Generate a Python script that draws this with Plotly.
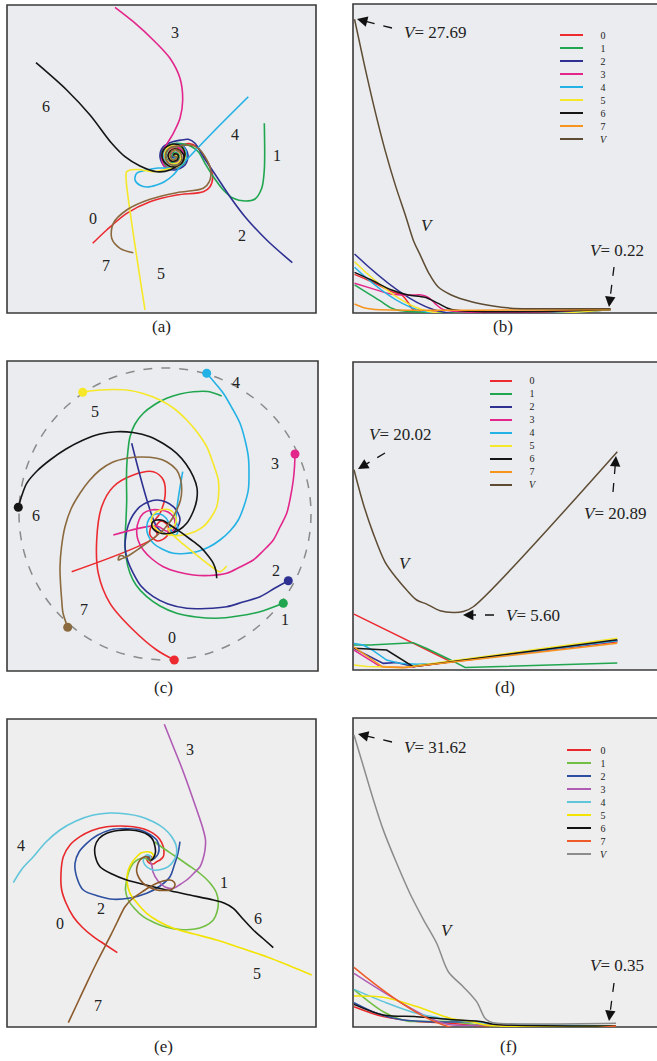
import plotly.graph_objects as go

W, H = 657, 1061
SERIF = "Liberation Serif"

# ---------------- trajectories, panel (a) (x, y in the panel frame) ----------------
a0 = [(92.7,243.3),(106.7,230),(126.7,213.3),(150,201.7),(176.7,195),(203.3,191.7),(210,186.7),(212.7,176.7),
      (210,166.7),(203.3,155),(196.7,146.7),(189,143.5),(181,145),(172,145),(164,150),(163,159),(169,166),
      (178,166),(184,159),(182,150),(175,148),(169,152),(169,159),(175,162),(179,157),(176,153),(174,156)]
a1 = [(264.3,123.3),(264.3,170),(261.7,188.3),(255,199),(245,201),(233.3,198.3),(223.3,190),(213.3,176.7),
      (205,163.3),(198.3,151.7),(191.7,146.7),(184,144),(174,143.5),(163,149),(161,158),(167,167),(177,168),
      (185,162),(185,152),(178,147),(170,148),(166,155),(169,162),(177,162),(179,155),(174,152),(172,156),(174,156)]
a2 = [(292.3,262.7),(266.7,240),(245,216.7),(230,196.7),(216.7,176.7),(203.3,156.7),(195,143.3),(188.3,139.3),
      (181.7,140),(172,142),(163,147),(160,157),(165,167),(175,170),(185,165),(188,155),(183,146),(174,145),
      (166,150),(165,159),(171,164),(179,162),(181,155),(175,150),(170,155),(174,158),(176,156)]
a3 = [(115,7.3),(133.3,21.7),(155,41.7),(170,58.3),(180,78.3),(182.7,100),(180,118.3),(173.3,133.3),(168.3,141.7),
      (163.3,150),(161.7,158.3),(165,166.7),(173.3,168.3),(181.7,163.3),(184,155),(180,148.3),(173,146),(166,151),
      (166,159),(172,164),(179,161),(181,155),(176,150),(171,153),(171,159),(176,159),(175,155),(174,156)]
a4 = [(248.3,96.7),(217,128),(192,154),(180,167),(173.3,175),(164,182),(156.7,185),(147,187),(140,185.3),(135,180),
      (136.7,173.3),(146.7,170),(158,168),(168,168),(178,166),(185,160),(186,151),(180,145),(171,145),(165,150),
      (164,158),(169,164),(177,164),(181,158),(179,151),(173,150),(170,154),(172,159),(176,158),(174,156)]
a5 = [(145,310),(126,178),(126.5,172),(130,170),(138,169.5),(153.3,171.7),(163,170),(172,168),(180,165),(185,158),
      (184,150),(178,145),(170,146),(165,152),(166,160),(172,164),(179,162),(181,156),(177,150),(171,152),
      (170,158),(175,160),(177,156),(174,156)]
a6 = [(36,62.7),(66.7,90),(90,115),(111.7,143.3),(125,156.7),(140,166),(156.7,171.7),(170,170),(180,163.3),(185,155),
      (182,147),(174,144),(165,148),(162,156),(166,164),(174,167),(182,163),(184,156),(179,150),(172,150),
      (168,155),(171,161),(177,160),(178,155),(174,154),(174,156)]
a7 = [(133.3,252.7),(120,248.3),(111.7,238.3),(113.3,223.3),(126.7,210),(150,199.3),(176.7,192.7),(203.3,188.3),
      (209.3,181.7),(210.7,170),(205,156.7),(198.3,148.3),(190,145),(180,146),(172,147),(166,152),(166,160),
      (172,165),(179,164),(182,158),(179,151),(173,150),(170,155),(173,160),(177,157),(174,156)]

# ---------------- trajectories, panel (c) ----------------
c0 = [(174.3,660),(156.7,650),(133.3,630),(110,603.3),(98.3,573.3),(96.7,540),(101.7,506.7),(113.3,486.7),
      (133.3,475),(153.3,471.7),(163.3,480),(165,496.7),(160,513.3),(152,524),(150,535),(158,541),(167,536),
      (168,526),(161,521),(155,528),(157,535),(71.7,571.7)]
c1 = [(283.3,603.3),(260,611.7),(238,616),(216.7,618.3),(196,617),(176.7,613.3),(160,606),(146.7,596.7),
      (136,585),(130,573.3),(126,557),(125,540),(126,520),(126.7,500),(126.5,483),(126.7,466.7),(128,450),
      (130,436.7),(135,424),(143.3,413.3),(154,405),(166.7,398.3),(180,394),(193.3,391.7),(208,391.5),(221.7,396)]
c2 = [(288.3,580.7),(275,588),(260,596.7),(243,602),(226.7,606.7),(206,608.5),(186.7,608.3),(168,604),
      (153.3,596.7),(141,586),(133.3,573.3),(127.5,560),(125,546.7),(126,535),(128.3,525),(133,515),(140,506.7),
      (148,502),(156.7,500),(166,502),(173.3,506.7),(178,513),(180,520),(177,528),(171.7,533.3),(164,533),
      (156.7,526.7),(131.7,443.3)]
c3 = [(295,454),(294.5,467),(293.3,480),(290.5,497),(286.7,513.3),(280,527),(273.3,540),(263,551),(253.3,560),
      (240,567),(226.7,573.3),(210,575.5),(193.3,575),(178,572),(163.3,566.7),(152,559),(143.3,550),(138,540),
      (136.7,530),(139,520),(143.3,513.3),(151,510),(160,510),(168,512),(173.3,516.7),(175,523),(173.3,530),
      (166,531),(157,526),(113.3,535)]
c4 = [(206.7,373.3),(215,383),(223.3,393.3),(232,408),(240,423.3),(245,440),(248.3,456.7),(249,473),(248.3,490),
      (244,506),(238.3,520),(230,531),(220,540),(209,547),(196.7,551.7),(185,553.5),(173.3,553.3),(162,549),
      (153.3,543.3),(148,535),(146.7,526.7),(149,519),(153.3,515),(160,514),(166,518),(170,526),(172,533),
      (176,535),(178,529),(176,520),(182.7,471.7)]
c5 = [(82.7,392.3),(90,391),(100,390),(113,389.5),(126.7,390),(143,393.5),(160,400),(174,408.5),(186.7,420),
      (197,432),(206.7,446.7),(213,463),(218.3,480),(218.7,493),(216.7,506.7),(211,517.5),(203.3,526.7),
      (194,532),(183.3,535),(173,535.5),(163.3,533.3),(156,529),(151.7,523.3),(152.5,516),(156.7,511.7),
      (163,509.5),(170,510),(175,515),(176,522),(172,528),(168,529),(213.3,568),(220,571.7),(226.7,566)]
c6 = [(18.3,507.3),(22,495),(26.7,483.3),(37,471),(50,460),(66,449),(83.3,440),(100,434),(116.7,431.7),
      (133,432.5),(150,436.7),(164,444),(176.7,453.3),(186,464),(193.3,476.7),(197,488),(196.7,500),(193,512),
      (186.7,523.3),(179,530),(170,533.3),(162,533.5),(156.7,531.7),(152.5,528),(151.7,525),(153,521.5),
      (156.7,520),(163,520.5),(170,525),(180,531.7),(190,539),(200,546.7),(207.5,555),(213.3,563.3),(216,571),
      (216.7,578.3)]
c7 = [(67.7,627.3),(63,613),(61.7,600),(60.5,583),(60,566.7),(61.5,547),(65,526.7),(71,509),(80,493.3),(89,481),
      (100,470),(112,462.5),(126.7,458.3),(141,457),(156.7,458.3),(167,462),(176.7,470),(180.5,479),(181.7,490),
      (180.5,500),(176.7,510),(172,519),(165,528),(155,537),(140,548),(128,556),(121,559),(118.3,560),
      (119.5,556),(123,556),(125,558)]
c_ring = dict(cx=165, cy=514, r=146)

# ---------------- trajectories, panel (e) ----------------
e0 = [(117.3,952.7),(105,944.5),(93.3,936.7),(82,927),(73.3,916.7),(66,903),(61.7,890),(61,873),(63.3,856.7),
      (70,845),(80,836.7),(92,830.5),(106.7,826.7),(120,826),(133.3,826.7),(144,829),(153.3,833.3),(159.5,839),
      (163.3,846.7),(164,852),(163.3,856.7),(160,860),(156.7,861.7),(153,864),(148,862),(147,858),(150,856),
      (153,859),(150,861)]
e1 = [(155,842),(163,848),(175,856),(188,865),(200,873.5),(210,883),(216.5,893),(218.3,903.3),(217,912),
      (213.3,920),(205,926),(193.3,929.3),(180,929.5),(166.7,927.3),(154,922.5),(143.3,916.7),(134.5,908.5),
      (128.3,900),(125.5,890),(126.7,880),(129,871),(133.3,863.3),(138,859.5),(143.3,858.3),(147,859),(150,861)]
e2 = [(180,841.7),(178,853),(174,866),(170,876.7),(160,886),(146.7,893.3),(130,898),(113.3,899.3),(98,896),
      (83.3,890),(77,878),(75,863.3),(79,852),(86.7,843.3),(97,835.5),(110,830),(125,828.5),(140,830),(149,834),
      (156.7,840),(159,847),(158.3,853.3),(155,858),(151,860),(148,858),(149,856),(150,861)]
e3 = [(164.3,724.3),(172,743.5),(180,763.3),(187,782),(193.3,800),(198.5,815),(203.3,830),(205.5,840),(205,850),
      (203,859),(200,866.7),(193.5,873.5),(186.7,880),(180,884.5),(173.3,888.3),(165,887),(158,881),(153,872),
      (152,866),(150,861)]
e4 = [(13.3,882.7),(22,869),(33.3,856.7),(46,842),(60,830),(76,821),(93.3,815),(110,813),(126.7,814),
      (140,816.5),(153.3,821.7),(163.5,828),(171.7,836.7),(176,845),(176.7,853.3),(173.5,861),(168.3,866.7),
      (161,869.5),(153.3,870),(147,867),(143.3,861.7),(144,857.5),(146.7,855),(150,856),(151,859),(150,861)]
e5 = [(311.7,975),(289,965.5),(266.7,956.7),(241,948),(216.7,940),(194,934),(173.3,928.3),(158,921),
      (146.7,913.3),(137,903),(130,893.3),(127,881),(128.3,870),(132,862.5),(136.7,856.7),(141,853),
      (146.7,851.7),(151,852.5),(153.3,855),(153,858),(150,861)]
e6 = [(273.3,947.7),(263,938.5),(253.3,930),(243,919),(233.3,908.3),(224,903),(213.3,900),(190,895),
      (166.7,890),(146,885),(126.7,880),(112,874),(100,866.7),(95.5,857),(95,846.7),(99,838.5),(106.7,833.3),
      (118,830.5),(130,830),(140,831.5),(148.3,835),(153,840),(155,846.7),(155.5,852),(153.3,858.3),(150,861)]
e7 = [(68.3,1022.7),(77.5,1003),(86.7,983.3),(98,960),(110,936.7),(117.5,921.5),(125,906.7),(132,899),
      (140,893.3),(148,888),(156.7,883.3),(163,881),(170,880),(174,882),(175,885),(173,888.5),(170,890),
      (163,890.5),(156.7,890),(149,887),(143.3,883.3),(139,878),(136.7,871.7),(137.5,865),(140,860),
      (143,857.5),(146.7,856.7),(149,858),(150,861)]

# ---------------- time series (step, value) ----------------
bV = [(0,27.69),(4,23.2),(8,19.0),(12,15.2),(16,11.9),(20,9.0),(23,6.7),(25.5,5.4),(29,3.6),(32.6,2.3),
      (38,1.5),(45.7,0.88),(53.5,0.5),(61,0.27),(70,0.22),(100,0.22)]
b0 = [(0,3.48),(6.6,2.79),(14.5,1.84),(18.4,1.52),(21.6,0.57),(22.9,0.15),(100,0.15)]
b1 = [(0,2.47),(5.3,1.68),(10.5,0.89),(15.8,0.15),(100,0.15)]
b2 = [(0,5.41),(30.7,0.15),(100,0.15)]
b3 = [(0,2.63),(6.6,2.15),(14.5,1.6),(22.4,1.52),(26.2,1.52),(28.8,1.3),(31.4,0.73),(34.6,0.15),(100,0.15)]
b4 = [(0,4.15),(24.2,0.15),(100,0.15)]
b5 = [(0,4.68),(26.2,0.15),(100,0.15)]
b6 = [(0,3.67),(6.6,2.94),(14.5,1.99),(21.0,1.52),(27.5,1.3),(32.7,0.73),(37.9,0.15),(100,0.15)]
b7 = [(0,0.66),(4,0.28),(8,0.15),(100,0.15)]

dV = [(0,20.02),(3.5,16.6),(7.3,13.6),(11.8,10.7),(16.2,9.06),(20,7.88),(23.8,6.87),(27.6,6.46),(32.7,5.79),
      (37.7,5.60),(41.5,5.7),(45.3,6.19),(100,21.85)]
d0 = [(0,5.45),(37,0.62),(100,2.66)]
d1 = [(0,2.32),(6.1,2.32),(22.5,2.56),(27.6,1.97),(36.5,0.84),(42.2,0.05),(100,0.5)]
d2 = [(0,1.99),(11.1,0.47),(16.2,0.55),(22.5,0.15),(100,2.75)]
d3 = [(0,1.8),(10,0.15),(20,0.05),(100,2.75)]
d4 = [(0,2.49),(3.5,2.32),(7.3,1.75),(12.4,0.81),(17.5,0.47),(23.8,0.37),(31.4,0.46),(100,2.75)]
d5 = [(0,0.3),(5,0.15),(10,0.12),(18.5,0.05),(100,3.0)]
d6 = [(0,1.99),(12.4,1.82),(22.5,0.13),(100,2.85)]
d7 = [(0,2.1),(6,1.0),(11,0.1),(18.5,0.02),(100,2.49)]

fV = [(0,31.62),(3.6,28.2),(7.4,24.6),(11.2,21.3),(16.3,17.7),(21.4,14.4),(26.5,11.6),(31.6,9.0),(36,5.94),
      (41.7,4.32),(46.8,2.69),(50,0.89),(51.9,0.52),(54.5,0.35),(100,0.35)]
f0 = [(0,2.15),(11.2,1.07),(23.9,0.54),(36.6,0.36),(50,0.05),(100,0.05)]
f1 = [(0,4.0),(11.2,1.6),(20.1,0.6),(23.9,0.54),(36.6,0.54),(50,0.1),(100,0.05)]
f2 = [(0,2.58),(8.7,1.43),(17.6,0.76),(30.3,0.5),(49.4,0.43),(53,0.1),(100,0.05)]
f3 = [(0,5.77),(34.1,0.35),(50,0.15),(100,0.05)]
f4 = [(0,4.03),(11.2,2.7),(23.9,1.43),(36.6,0.76),(46.8,0.5),(51.9,0.35),(100,0.05)]
f5 = [(0,3.31),(11.2,3.17),(23.9,2.16),(36.6,0.9),(44.3,0.54),(52,0.1),(100,0.05)]
f6 = [(0,2.4),(11.2,1.25),(23.9,1.07),(36.6,0.76),(49.4,0.5),(53.2,0.25),(100,0.05)]
f7 = [(0,6.42),(35.4,0.05),(100,0.05)]

names = ["0", "1", "2", "3", "4", "5", "6", "7"]
lab_a = [(93,219),(277,156),(242,236),(175,33),(235,135),(161,273),(46,107),(106,265)]
lab_c = [(171.7,637.7),(285,619),(276,570),(275,463.3),(236,382.7),(95,411.7),(36,515.7),(84,609.3)]
lab_e = [(60,923.3),(224,882.7),(100.7,908.3),(190,749.3),(20.7,845),(257.3,973.3),(258.3,918.3),(98.3,1005)]

col1 = ["#ec2a30", "#1fa64f", "#2e3192", "#e3268b", "#23b2e6", "#f6e829", "#151515", "#8c6a3f"]
col1_ts = col1[:7] + ["#f7941d"]
colV1 = "#5e4b33"
col2 = ["#e8282b", "#72bf44", "#2d4fa0", "#b05cb5", "#5fc5da", "#f3e300", "#111111", "#8b5a2b"]
col2_ts = col2[:7] + ["#ef5a29"]
colV2 = "#8c8c8c"

# ---------------- layout helpers ----------------
def paper(px, py):
    return px / W, 1 - py / H

# panel boxes on the page: left, top, right, bottom
boxes = [(7, 5, 316, 313), (353, 4, 657, 313), (7, 361, 318, 671),
         (353, 362, 657, 670), (7, 719, 316, 1027), (353, 718, 657, 1027)]
ranges = [([7, 316], [313, 5]), ([-0.6, 118.2], [-0.19, 29.14]), ([7, 318], [671, 361]),
          ([-0.38, 115.08], [-0.2, 30.91]), ([7, 316], [1027, 719]), ([-0.38, 115.65], [-0.054, 33.46])]
bgs = ["#eaecef", "#eaecef", "#eaecef", "#eaecef", "#eeeeee", "#eeeeee"]

fig = go.Figure()
layout = dict(width=W, height=H, margin=dict(l=0, r=0, t=0, b=0), paper_bgcolor="white",
              plot_bgcolor="rgba(0,0,0,0)", showlegend=False)
shapes, annots = [], []
for i, (box, (xr, yr), bg) in enumerate(zip(boxes, ranges, bgs)):
    k = "" if i == 0 else str(i + 1)
    l, t, r, b = box
    ax_common = dict(showgrid=False, zeroline=False, showticklabels=False, ticks="", showline=False, fixedrange=True)
    layout["xaxis" + k] = dict(domain=[l / W, r / W], range=xr, anchor="y" + k, **ax_common)
    layout["yaxis" + k] = dict(domain=[1 - b / H, 1 - t / H], range=yr, anchor="x" + k, **ax_common)
    shapes.append(dict(type="rect", xref="x%s domain" % k, yref="y%s domain" % k, x0=0,
                       x1=1.05 if i % 2 else 1, y0=0, y1=1, fillcolor=bg,
                       line=dict(color="#3a3a3a", width=1.6), layer="below"))


def add_curve(pts, color, axis, width=1.6, smooth=True):
    fig.add_trace(go.Scatter(x=[p[0] for p in pts], y=[p[1] for p in pts], mode="lines",
                             line=dict(color=color, width=width, shape="spline" if smooth else "linear",
                                       smoothing=0.9 if smooth else 0),
                             xaxis="x" + axis, yaxis="y" + axis, hoverinfo="skip"))


def text(txt, px, py, size, **kw):
    x, y = paper(px, py)
    annots.append(dict(text=txt, x=x, y=y, xref="paper", yref="paper", showarrow=False,
                       xanchor="center", yanchor="middle", font=dict(family=SERIF, size=size, color="#222"), **kw))


for pts, c in zip([a0, a1, a2, a3, a4, a5, a6, a7], col1):
    add_curve(pts, c, "")
for pts, c in zip([c0, c1, c2, c3, c4, c5, c6, c7], col1):
    add_curve(pts, c, "3")
for pts, c in zip([e0, e1, e2, e3, e4, e5, e6, e7], col2):
    add_curve(pts, c, "5")

for pts, c in zip([b0, b1, b2, b3, b4, b5, b6, b7], col1_ts):
    add_curve(pts, c, "2", 1.5)
add_curve(bV, colV1, "2", 1.5)
for pts, c in zip([d0, d1, d2, d3, d4, d5, d6, d7], col1_ts):
    add_curve(pts, c, "4", 1.5, smooth=False)
add_curve(dV, colV1, "4", 1.5)
for pts, c in zip([f0, f1, f2, f3, f4, f5, f6, f7], col2_ts):
    add_curve(pts, c, "6", 1.5)
add_curve(fV, colV2, "6", 1.5)

# formation circle and starting points in (c)
shapes.append(dict(type="circle", xref="x3", yref="y3", x0=c_ring["cx"] - c_ring["r"], x1=c_ring["cx"] + c_ring["r"],
                   y0=c_ring["cy"] - c_ring["r"], y1=c_ring["cy"] + c_ring["r"],
                   line=dict(color="#8a8a8a", width=1.5, dash="dash"), layer="below"))
starts = [c0, c1, c2, c3, c4, c5, c6, c7]
fig.add_trace(go.Scatter(x=[s[0][0] for s in starts], y=[s[0][1] for s in starts], mode="markers",
                         marker=dict(size=9, color=col1), xaxis="x3", yaxis="y3", hoverinfo="skip"))

# agent number labels (panel units)
for labs, k in [(lab_a, ""), (lab_c, "3"), (lab_e, "5")]:
    for n, (x, y) in zip(names, labs):
        annots.append(dict(text=n, x=x, y=y, xref="x" + k, yref="y" + k, showarrow=False,
                           xanchor="center", yanchor="middle", font=dict(family=SERIF, size=16, color="#222")))

# panel captions
for txt, (px, py) in zip(["(a)", "(b)", "(c)", "(d)", "(e)", "(f)"],
                         [(161, 326), (503, 326), (163, 687), (505, 687), (163, 1046), (508, 1046)]):
    text(txt, px, py, 17)

# legends: line samples plus one stacked label block
LEG_FONT, LEG_STEP = 10, 13
leg_text = "<br>".join(names + ["<i>V</i>"])
for (x0, x1, xl, y0), cols in [((560, 583, 604, 35), col1_ts + [colV1]),
                               ((490, 512, 533, 381), col1_ts + [colV1]),
                               ((567, 591, 604, 750), col2_ts + [colV2])]:
    for j, c in enumerate(cols):
        xa, ya = paper(x0, y0 + j * LEG_STEP)
        xb, _ = paper(x1, y0 + j * LEG_STEP)
        shapes.append(dict(type="line", xref="paper", yref="paper", x0=xa, x1=xb, y0=ya, y1=ya,
                           line=dict(color=c, width=2)))
    text(leg_text, xl, y0 + 4 * LEG_STEP, LEG_FONT, align="center")

# value annotations with dashed arrows: text, text position, arrow tail, arrow tip
notes = [("<i>V</i>= 27.69", (435, 32), (392, 28), (357, 19)),
         ("<i>V</i>= 0.22", (617, 251), (614, 267), (609, 307)),
         ("<i>V</i>= 20.02", (400, 434), (385, 453), (358, 469)),
         ("<i>V</i>= 20.89", (615, 513), (613, 492), (616, 456)),
         ("<i>V</i>= 5.60", (533, 615), (494, 615), (463, 615)),
         ("<i>V</i>= 31.62", (435, 747), (392, 742), (358, 734)),
         ("<i>V</i>= 0.35", (617, 965), (614, 983), (609, 1021))]
for txt, (tx, ty), (ax_, ay_), (hx, hy) in notes:
    text(txt, tx, ty, 17)
    dx, dy = hx - ax_, hy - ay_
    d = (dx * dx + dy * dy) ** 0.5
    ux, uy = dx / d, dy / d
    sx, sy = paper(ax_, ay_)
    ex, ey = paper(hx - ux * 8, hy - uy * 8)
    shapes.append(dict(type="line", xref="paper", yref="paper", x0=sx, y0=sy, x1=ex, y1=ey,
                       line=dict(color="#111", width=1.3, dash="dash")))
    hx_, hy_ = paper(hx, hy)
    annots.append(dict(text="", x=hx_, y=hy_, xref="paper", yref="paper", showarrow=True,
                       ax=-ux * 11, ay=-uy * 11, arrowhead=2, arrowsize=1.6, arrowwidth=1.3,
                       arrowcolor="#111"))

for px, py in [(427, 225), (405, 563), (447, 930)]:
    text("<i>V</i>", px, py, 17)

layout["shapes"] = shapes
layout["annotations"] = annots
fig.update_layout(**layout)
fig.write_html("out.html", config={"displayModeBar": False},
               post_script="document.body.style.margin='0px';")
